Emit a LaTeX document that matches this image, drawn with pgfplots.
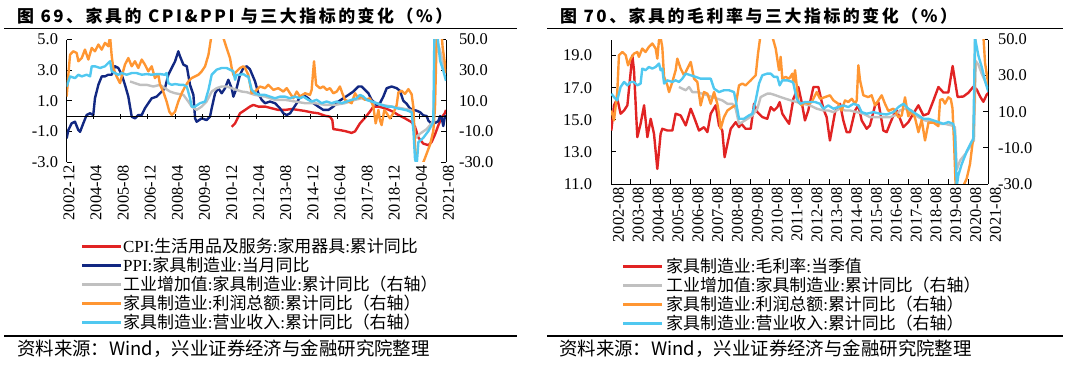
\documentclass[border=0pt]{standalone}
\usepackage{pgfplots}
\pgfplotsset{compat=1.18}
\usepackage{pgfplotstable}
\usepackage{fontspec}
\setmainfont{Liberation Serif}
\newfontfamily\cjk{Noto Sans CJK SC}
\newfontfamily\cjktitle[LetterSpace=15]{Noto Sans CJK SC}
\newcommand\zh[1]{{\cjk #1}}
\definecolor{cred}{RGB}{225,35,35}
\definecolor{cnavy}{RGB}{18,40,130}
\definecolor{cgray}{RGB}{192,192,192}
\definecolor{corange}{RGB}{255,150,50}
\definecolor{ccyan}{RGB}{80,200,240}

% ---------- left panel (x = months since 2000-01) ----------
\pgfplotstableread{
x y
132.5 -0.70
134.5 -0.48
137.4 0.18
140.4 0.40
143.3 0.62
145.3 0.73
148.2 0.62
152.2 0.62
156.1 0.51
160.0 0.40
164.0 0.40
167.9 0.46
171.8 0.40
175.8 0.33
179.7 0.24
183.6 0.18
187.6 0.02
190.5 -0.04
191.9 -0.26
192.5 -0.85
195.5 -0.90
199.4 -0.98
203.3 -1.10
205.3 -1.00
208.2 -0.48
211.2 -0.11
214.1 0.29
216.1 0.62
219.1 0.62
223.0 0.51
226.9 0.33
230.9 0.07
234.8 -0.15
238.7 -0.40
240.7 -0.70
242.7 -1.40
245.6 -1.80
248.6 -1.90
250.5 -1.70
252.5 -1.20
254.5 -0.60
256.4 -0.10
258.4 0.20
259.0 0.40
}\tcpi
\pgfplotstableread{
x y
35.1 -1.46
36.1 -0.92
38.0 -0.48
40.0 -0.37
42.0 -0.92
43.0 -1.03
44.9 -0.48
46.9 0.07
48.9 0.18
50.8 0.07
51.8 1.16
53.8 2.04
55.8 2.59
57.7 2.59
59.7 2.70
61.7 2.70
63.6 3.25
65.6 3.14
67.6 2.70
69.5 2.04
71.5 1.27
73.5 -0.04
75.4 -0.15
77.4 0.07
79.4 0.07
81.3 0.51
83.3 0.84
85.3 1.16
88.2 1.27
90.2 1.49
93.1 1.82
95.1 2.70
97.1 3.14
99.1 3.58
101.0 4.23
102.0 3.90
104.0 3.36
106.0 3.25
107.9 2.04
109.9 1.38
110.9 -0.15
111.8 -0.37
114.8 -0.15
117.7 -0.26
119.7 -0.04
120.7 0.51
122.7 1.49
124.6 1.82
126.6 1.49
128.6 1.82
130.5 2.37
132.5 1.82
133.5 1.27
135.4 1.82
137.4 2.70
139.4 3.14
141.4 3.25
143.3 3.05
146.3 2.26
148.2 1.49
150.2 1.06
152.2 0.84
155.1 0.95
158.1 0.84
161.0 0.51
163.0 0.18
165.0 0.07
167.0 0.18
168.9 0.51
170.9 0.84
172.8 1.27
174.8 1.38
177.7 1.16
180.7 0.84
183.6 0.62
186.6 0.40
189.6 0.40
192.5 0.62
195.5 0.95
198.4 1.16
201.4 1.38
204.3 1.60
207.3 1.93
209.2 1.93
211.2 1.71
213.2 1.49
215.1 1.06
218.1 0.73
220.0 0.84
222.0 1.27
224.0 1.82
226.9 1.93
229.9 1.82
231.8 1.65
233.8 1.00
235.8 0.80
237.7 0.50
239.7 0.40
241.7 0.35
243.7 0.25
245.6 0.05
247.6 0.00
248.6 -0.30
250.5 -0.50
252.5 -0.45
254.5 -0.33
255.5 0.00
256.4 -0.10
257.4 -0.65
258.4 0.00
259.0 0.00
}\tppi
\pgfplotstableread{
x y
72.5 22.6
75.4 21.5
78.4 20.4
82.3 20.4
86.3 19.3
90.2 20.4
93.1 18.2
96.1 16.0
99.1 14.9
102.0 14.3
104.0 13.8
106.9 9.5
108.9 6.2
111.8 4.0
114.8 6.2
117.7 9.5
120.7 16.0
123.6 18.2
126.6 19.3
129.5 19.3
132.5 18.2
135.4 17.1
138.4 16.0
141.4 15.6
146.3 13.8
152.2 12.7
158.1 10.6
164.0 10.6
169.9 9.5
175.8 8.4
181.7 8.4
187.6 7.3
193.5 7.3
199.4 8.4
205.3 10.6
209.2 11.6
215.1 9.5
221.0 7.3
226.9 6.2
232.8 5.1
237.7 4.0
239.7 2.9
240.7 -14.5
243.7 -11.5
247.6 -8.5
250.5 -4.8
251.5 -2.2
252.5 30.0
253.5 50.0
255.5 42.8
257.4 34.0
259.0 28.0
}\tgrayA
\pgfplotstableread{
x y
35.1 12.7
36.1 27.0
37.1 40.1
39.0 42.3
41.0 41.2
42.0 35.8
44.0 37.9
45.9 43.4
47.9 36.9
49.9 44.5
51.8 42.3
53.8 46.7
55.8 43.4
57.7 47.8
59.7 45.6
60.7 52.0
61.7 39.0
62.6 31.4
64.6 25.9
66.6 21.5
67.6 25.9
69.5 33.6
71.5 37.9
73.5 32.5
75.4 35.8
77.4 31.4
79.4 36.9
81.3 33.6
83.3 29.2
85.3 32.5
87.2 24.8
89.2 27.0
90.2 20.4
92.1 16.0
94.1 9.5
95.7 2.9
97.1 0.7
99.1 2.9
101.0 9.5
103.0 14.9
105.0 19.3
106.9 22.6
108.9 24.8
110.9 25.9
112.9 27.0
114.8 29.2
116.8 32.5
118.8 40.1
120.2 50.0
121.7 62.0
124.6 70.0
127.6 51.0
129.5 44.5
131.5 37.9
132.5 31.4
133.5 27.0
135.4 29.2
137.4 31.4
139.4 32.5
140.4 31.4
142.3 27.0
144.3 14.9
146.3 16.0
149.2 19.3
152.2 18.2
154.1 20.4
157.1 17.1
160.0 18.2
163.0 16.0
165.0 18.2
166.9 14.9
168.9 11.6
170.9 16.0
172.8 12.7
175.8 14.9
178.7 13.8
179.7 17.1
181.1 35.8
182.3 20.4
184.6 18.2
186.6 19.3
188.6 17.1
190.5 18.2
192.5 14.9
194.5 16.0
196.4 19.3
197.8 14.9
199.4 10.6
201.4 9.5
203.3 8.4
205.3 14.9
207.3 11.6
209.2 12.7
211.2 10.6
214.1 11.6
216.1 6.2
217.5 -4.8
219.1 4.0
220.0 -2.6
221.0 -5.9
222.6 4.0
224.0 1.8
225.9 -1.5
227.9 1.8
229.9 7.3
230.9 15.5
232.8 16.5
234.8 14.5
236.8 17.6
238.7 14.3
239.7 6.2
240.7 -19.0
241.7 -33.0
244.6 -33.0
246.6 -27.4
249.6 -18.6
251.5 -9.8
252.5 5.5
253.5 52.0
254.1 62.0
255.9 62.0
257.0 45.0
258.4 34.0
259.0 28.0
}\torangeA
\pgfplotstableread{
x y
35.1 19.3
37.1 25.9
40.0 24.8
42.0 27.0
44.0 25.9
46.9 27.0
48.9 25.9
49.9 32.5
51.8 32.5
54.8 31.4
57.7 32.5
60.7 35.8
61.7 29.2
63.6 28.1
65.6 27.0
67.6 28.1
70.5 27.0
73.5 28.1
76.4 28.1
79.4 27.0
82.3 27.4
85.3 27.0
88.2 27.4
90.2 27.4
93.1 27.0
94.1 28.1
95.1 21.5
97.1 20.4
99.1 20.9
102.0 20.4
104.0 20.4
106.0 19.3
107.9 11.6
108.9 6.2
110.9 6.2
113.8 8.4
116.8 9.5
118.8 17.1
120.7 27.0
123.6 30.3
126.6 31.4
129.5 31.4
131.5 30.3
133.5 29.2
134.5 23.7
135.4 27.0
137.4 27.0
139.4 27.4
141.4 25.9
142.3 25.9
144.3 17.1
146.3 14.9
149.2 13.8
152.2 13.8
155.1 12.7
158.1 11.6
161.0 12.7
164.0 12.7
166.9 11.6
169.9 12.7
172.8 11.6
174.8 12.7
177.7 10.6
179.7 9.5
182.7 10.6
185.6 8.4
188.6 9.5
191.5 8.4
194.5 9.5
197.4 8.4
200.4 9.5
203.3 10.6
206.3 11.6
208.2 13.8
210.2 12.7
212.2 10.6
215.1 9.5
218.1 8.4
221.0 7.3
224.0 6.2
226.9 6.2
229.9 5.1
232.8 4.5
235.8 3.8
238.7 2.5
239.8 -10.0
240.7 -28.0
241.7 -32.0
242.7 -17.0
245.6 -14.2
248.6 -9.8
250.5 -6.0
251.5 -4.0
252.1 49.0
252.7 58.0
253.9 53.0
255.5 36.2
257.4 29.6
259.0 23.0
}\tcyanA

% ---------- right panel ----------
\pgfplotstableread{
x y
31.2 14.33
32.8 15.90
34.8 16.31
36.8 15.38
38.9 15.58
40.9 15.90
43.9 19.02
44.9 18.08
46.9 13.92
48.9 14.75
51.0 15.90
53.0 13.92
55.0 15.06
57.0 14.13
59.0 11.94
61.0 14.13
62.0 14.44
65.1 14.33
68.1 14.33
70.1 15.38
73.1 15.27
76.2 14.65
79.2 15.69
81.2 15.17
84.2 14.33
87.2 14.54
89.3 14.23
91.3 15.38
94.3 15.90
96.3 14.65
98.3 14.33
99.7 12.67
101.4 13.50
103.4 14.44
106.4 14.85
108.4 14.54
109.8 14.75
112.4 14.44
115.5 14.44
117.5 16.00
119.5 15.48
122.5 15.17
125.5 15.06
127.6 15.79
129.6 15.58
131.6 15.79
133.0 16.10
134.6 15.38
136.6 15.06
138.7 14.75
141.3 16.31
144.3 17.04
146.3 16.10
148.3 14.96
150.3 15.58
153.4 17.04
156.4 17.04
159.4 15.69
161.4 15.17
163.4 13.71
166.5 15.48
169.5 16.00
171.5 14.96
173.5 14.23
175.5 14.23
178.6 15.58
180.6 15.90
182.6 14.96
185.6 14.44
187.6 14.65
190.7 15.90
192.7 16.10
195.7 14.33
197.7 14.23
199.7 14.75
201.8 15.27
203.8 15.58
205.8 15.06
207.8 14.54
210.8 14.85
213.8 15.38
216.9 15.90
219.9 15.27
222.9 15.38
225.9 16.18
229.0 17.04
232.0 16.70
235.0 16.70
237.6 18.35
240.6 16.42
244.1 16.45
247.1 16.68
250.1 17.06
252.1 16.90
254.2 16.45
256.2 16.12
258.2 16.56
259.2 16.67
}\tmargin
\pgfplotstableread{
x y
72.1 23.7
74.1 22.8
76.2 21.9
78.2 23.7
80.2 20.9
83.2 20.9
86.2 20.0
89.3 19.1
92.3 18.1
95.3 17.2
98.3 16.3
101.4 14.4
104.4 14.4
106.4 11.7
108.4 3.3
110.4 4.3
113.5 6.1
116.5 8.0
119.5 11.7
121.5 18.1
123.5 19.1
125.5 20.0
127.6 20.0
130.6 19.1
133.6 18.1
136.6 17.2
139.7 16.3
143.3 15.4
147.3 14.4
151.4 13.5
155.4 11.7
159.4 10.7
162.4 10.7
165.5 9.8
169.5 11.7
172.5 10.7
175.5 10.7
179.6 9.8
183.6 8.9
187.6 7.0
191.7 7.0
195.7 7.0
199.7 7.0
202.8 8.0
205.8 10.7
208.8 11.7
212.8 9.8
216.9 7.0
220.9 5.2
225.0 4.3
229.0 3.3
233.0 3.3
237.0 2.4
239.0 1.5
240.1 -22.0
242.1 -17.0
245.6 -13.0
249.1 -7.8
250.5 -5.9
251.6 38.0
253.2 36.0
255.2 31.1
257.2 27.0
259.2 23.1
}\tgrayB
\pgfplotstableread{
x y
31.2 10.7
32.8 5.2
34.8 20.9
35.8 41.3
37.9 43.1
39.9 41.3
41.3 35.7
42.9 39.4
44.9 42.2
46.9 43.1
47.9 40.4
49.9 45.0
51.9 43.1
53.9 45.9
56.0 47.8
58.0 45.0
59.0 39.4
60.0 49.6
61.0 51.0
62.0 45.9
63.1 29.3
65.1 24.6
66.1 20.9
68.1 26.5
70.1 33.0
71.1 39.4
73.1 33.9
75.2 30.2
77.2 33.9
79.2 37.6
80.2 33.0
81.2 28.3
83.2 26.5
85.2 13.5
87.2 20.9
89.3 20.0
91.3 14.4
93.3 20.9
95.3 14.4
96.3 8.9
97.3 0.6
99.3 7.0
101.4 10.7
104.4 12.6
106.4 13.5
108.4 24.6
110.4 25.6
112.4 24.6
115.5 27.4
118.5 30.2
119.9 42.2
121.5 53.0
124.0 62.0
127.0 58.0
128.6 51.5
130.6 45.0
132.6 33.0
133.6 40.4
134.6 28.3
136.6 29.3
138.7 28.3
140.7 31.1
141.3 25.6
142.3 33.0
143.3 24.6
144.3 15.4
146.3 13.5
148.3 15.4
150.3 14.4
152.4 15.4
155.4 20.9
157.4 17.2
160.4 18.1
163.4 19.1
165.5 16.3
168.5 14.4
170.5 10.7
172.5 16.3
174.5 15.4
176.6 17.2
178.6 14.4
179.6 16.3
180.6 35.7
181.6 27.4
183.6 19.1
186.6 18.1
188.6 19.1
190.7 13.5
192.7 16.3
194.7 19.1
196.7 14.4
198.7 10.5
201.8 11.7
204.8 7.0
206.8 7.9
208.8 18.0
210.8 7.5
212.8 10.7
214.9 6.5
216.9 -1.3
218.9 5.5
220.9 -5.9
223.0 4.0
226.0 4.0
229.0 2.0
230.0 16.5
231.5 17.0
233.0 14.5
235.0 18.0
236.5 17.0
237.5 12.0
238.5 -8.0
239.5 -33.0
243.1 -33.0
246.1 -27.0
248.1 -19.0
250.1 -4.0
250.7 15.0
251.3 52.0
256.2 52.0
257.2 37.0
259.2 25.0
}\torangeB
\pgfplotstableread{
x y
31.2 20.0
32.8 18.1
34.8 16.3
36.8 23.7
38.9 26.5
40.9 24.6
42.9 26.5
44.9 26.5
46.9 24.6
48.9 25.6
49.9 33.9
51.9 33.0
53.9 34.8
56.0 33.9
58.0 34.8
60.0 36.7
61.0 33.0
62.0 33.9
63.1 25.6
65.1 27.4
68.1 26.5
70.1 27.4
72.1 26.5
74.1 28.3
76.2 31.1
79.2 30.2
82.2 29.3
85.2 28.3
88.2 28.3
91.3 28.3
93.3 22.8
96.3 20.9
99.3 21.9
102.4 21.9
105.4 20.9
106.4 16.3
108.4 6.1
111.4 6.1
114.5 8.0
116.5 8.9
118.5 16.3
120.5 25.6
122.5 30.2
125.5 31.1
127.6 31.1
129.6 29.3
131.6 29.3
133.0 24.6
134.6 27.4
137.6 27.4
140.7 26.5
141.3 25.6
143.3 17.2
145.3 14.4
148.3 15.4
151.4 15.4
154.4 15.4
157.4 14.4
159.4 11.7
162.4 13.5
165.5 11.7
168.5 12.6
171.5 13.5
174.5 12.6
177.6 14.4
180.6 13.5
182.6 9.8
185.6 8.9
189.7 9.8
193.7 8.9
197.7 8.5
201.8 9.8
204.8 12.6
207.8 14.4
210.8 11.7
213.8 9.8
216.9 8.0
219.9 6.1
222.9 6.1
225.9 5.2
229.0 4.3
232.0 3.3
235.0 4.3
238.0 3.3
239.0 -2.2
240.1 -31.0
241.1 -25.0
243.1 -19.0
246.1 -12.0
249.1 -6.5
250.1 -5.0
251.1 51.0
253.2 41.0
255.2 34.8
257.2 27.0
259.2 21.0
}\tcyanB

\pgfplotsset{
  base/.style={scale only axis, clip=true, enlargelimits=false,
    tick align=inside, major tick length=5bp,
    tick style={black, line width=0.8bp},
    axis line style={black, line width=0.9bp},
    tick label style={font=\fontsize{16.5}{18}\selectfont},
    /pgf/number format/assume math mode=true},
  ser/.style={line width=2.4bp, line join=round, no markers},
}

\begin{document}
\begin{tikzpicture}
% ===== LEFT PANEL =====
\begin{axis}[base, at={(66.5bp,206bp)}, anchor=south west,
  width=379.5bp, height=122.5bp,
  xmin=35, xmax=259, ymin=-3, ymax=5,
  axis y line*=left, axis x line*=bottom,
  x axis line style={draw=none}, xtick style={draw=none},
  xtick={35,51,...,259},
  xticklabels={2002-12,2004-04,2005-08,2006-12,2008-04,2009-08,2010-12,2012-04,2013-08,2014-12,2016-04,2017-08,2018-12,2020-04,2021-08},
  xticklabel style={rotate=90, anchor=east, yshift=-2.5bp},
  ytick={-3,-1,1,3,5}, yticklabels={-3.0,-1.0,1.0,3.0,5.0},
  yticklabel style={xshift=-5bp}]
  \addplot[ser, cred] table {\tcpi};
  \addplot[ser, cnavy] table {\tppi};
\end{axis}
\begin{axis}[base, at={(66.5bp,206bp)}, anchor=south west,
  width=379.5bp, height=122.5bp,
  xmin=35, xmax=259, ymin=-30, ymax=50,
  axis y line*=right, axis x line=middle, x axis line style={-},
  xtick={35,51,...,259}, xticklabels={},
  ytick={-30,-10,10,30,50}, yticklabels={-30.0,-10.0,10.0,30.0,50.0},
  yticklabel style={xshift=9.5bp}]
  \addplot[ser, cgray] table {\tgrayA};
  \addplot[ser, corange] table {\torangeA};
  \addplot[ser, ccyan] table {\tcyanA};
\end{axis}
% ===== RIGHT PANEL =====
\begin{axis}[base, at={(611bp,184bp)}, anchor=south west,
  width=377bp, height=144.5bp,
  xmin=31, xmax=259, ymin=11, ymax=20,
  axis y line*=left, axis x line*=bottom,
  xtick={31,43,...,259},
  xticklabels={2002-08,2003-08,2004-08,2005-08,2006-08,2007-08,2008-08,2009-08,2010-08,2011-08,2012-08,2013-08,2014-08,2015-08,2016-08,2017-08,2018-08,2019-08,2020-08,2021-08},
  xticklabel style={rotate=90, anchor=east, yshift=-7.5bp},
  ytick={11,13,15,17,19}, yticklabels={11.0,13.0,15.0,17.0,19.0},
  yticklabel style={xshift=-15.5bp}]
  \addplot[ser, cred] table {\tmargin};
\end{axis}
\begin{axis}[base, at={(611bp,184bp)}, anchor=south west,
  width=377bp, height=144.5bp,
  xmin=31, xmax=259, ymin=-30, ymax=50,
  axis y line*=right, axis x line=none,
  ytick={-30,-10,10,30,50}, yticklabels={-30.0,-10.0,10.0,30.0,50.0},
  yticklabel style={xshift=6.5bp}]
  \addplot[ser, cgray] table {\tgrayB};
  \addplot[ser, corange] table {\torangeB};
  \addplot[ser, ccyan] table {\tcyanB};
\end{axis}
% ===== decorations =====
\begin{scope}[x=1bp,y=1bp]
  \path (0,0) rectangle (1070,368);
  \node[anchor=base west, inner sep=0, font=\fontsize{17}{20}\selectfont]
    at (17,346) {\cjktitle\bfseries 图 69、家具的 CPI\&PPI 与三大指标的变化（\%）};
  \node[anchor=base west, inner sep=0, font=\fontsize{17}{20}\selectfont]
    at (560,346) {\cjktitle\bfseries 图 70、家具的毛利率与三大指标的变化（\%）};
  \draw[line width=1.2bp] (4,339.7) -- (517,339.7);
  \draw[line width=1.2bp] (547,339.7) -- (1063,339.7);
  \draw[line width=1.2bp] (4,32) -- (517,32);
  \draw[line width=1.2bp] (547,32) -- (1063,32);
  \node[anchor=base west, inner sep=0, font=\fontsize{18.5}{20}\selectfont]
    at (17,13) {\cjk 资料来源：Wind，兴业证券经济与金融研究院整理};
  \node[anchor=base west, inner sep=0, font=\fontsize{18.5}{20}\selectfont]
    at (559,13) {\cjk 资料来源：Wind，兴业证券经济与金融研究院整理};
  % left legend
  \begin{scope}[every node/.style={anchor=west, inner sep=0, font=\fontsize{17}{18}\selectfont}]
    \draw[cred, line width=3bp] (82,122) -- (121,122);
    \node at (123,122) {CPI:\zh{生活用品及服务}:\zh{家用器具}:\zh{累计同比}};
    \draw[cnavy, line width=3bp] (82,103) -- (121,103);
    \node at (123,103) {PPI:\zh{家具制造业}:\zh{当月同比}};
    \draw[cgray, line width=3bp] (82,83.5) -- (121,83.5);
    \node at (123,83.5) {\zh{工业增加值}:\zh{家具制造业}:\zh{累计同比（右轴）}};
    \draw[corange, line width=3bp] (82,64.5) -- (121,64.5);
    \node at (123,64.5) {\zh{家具制造业}:\zh{利润总额}:\zh{累计同比（右轴）}};
    \draw[ccyan, line width=3bp] (82,45.5) -- (121,45.5);
    \node at (123,45.5) {\zh{家具制造业}:\zh{营业收入}:\zh{累计同比（右轴）}};
    % right legend
    \draw[cred, line width=3bp] (623,102) -- (662,102);
    \node at (666,102) {\zh{家具制造业}:\zh{毛利率}:\zh{当季值}};
    \draw[cgray, line width=3bp] (623,83) -- (662,83);
    \node at (666,83) {\zh{工业增加值}:\zh{家具制造业}:\zh{累计同比（右轴）}};
    \draw[corange, line width=3bp] (623,64) -- (662,64);
    \node at (666,64) {\zh{家具制造业}:\zh{利润总额}:\zh{累计同比（右轴）}};
    \draw[ccyan, line width=3bp] (623,45) -- (662,45);
    \node at (666,45) {\zh{家具制造业}:\zh{营业收入}:\zh{累计同比（右轴）}};
  \end{scope}
\end{scope}
\end{tikzpicture}
\end{document}
